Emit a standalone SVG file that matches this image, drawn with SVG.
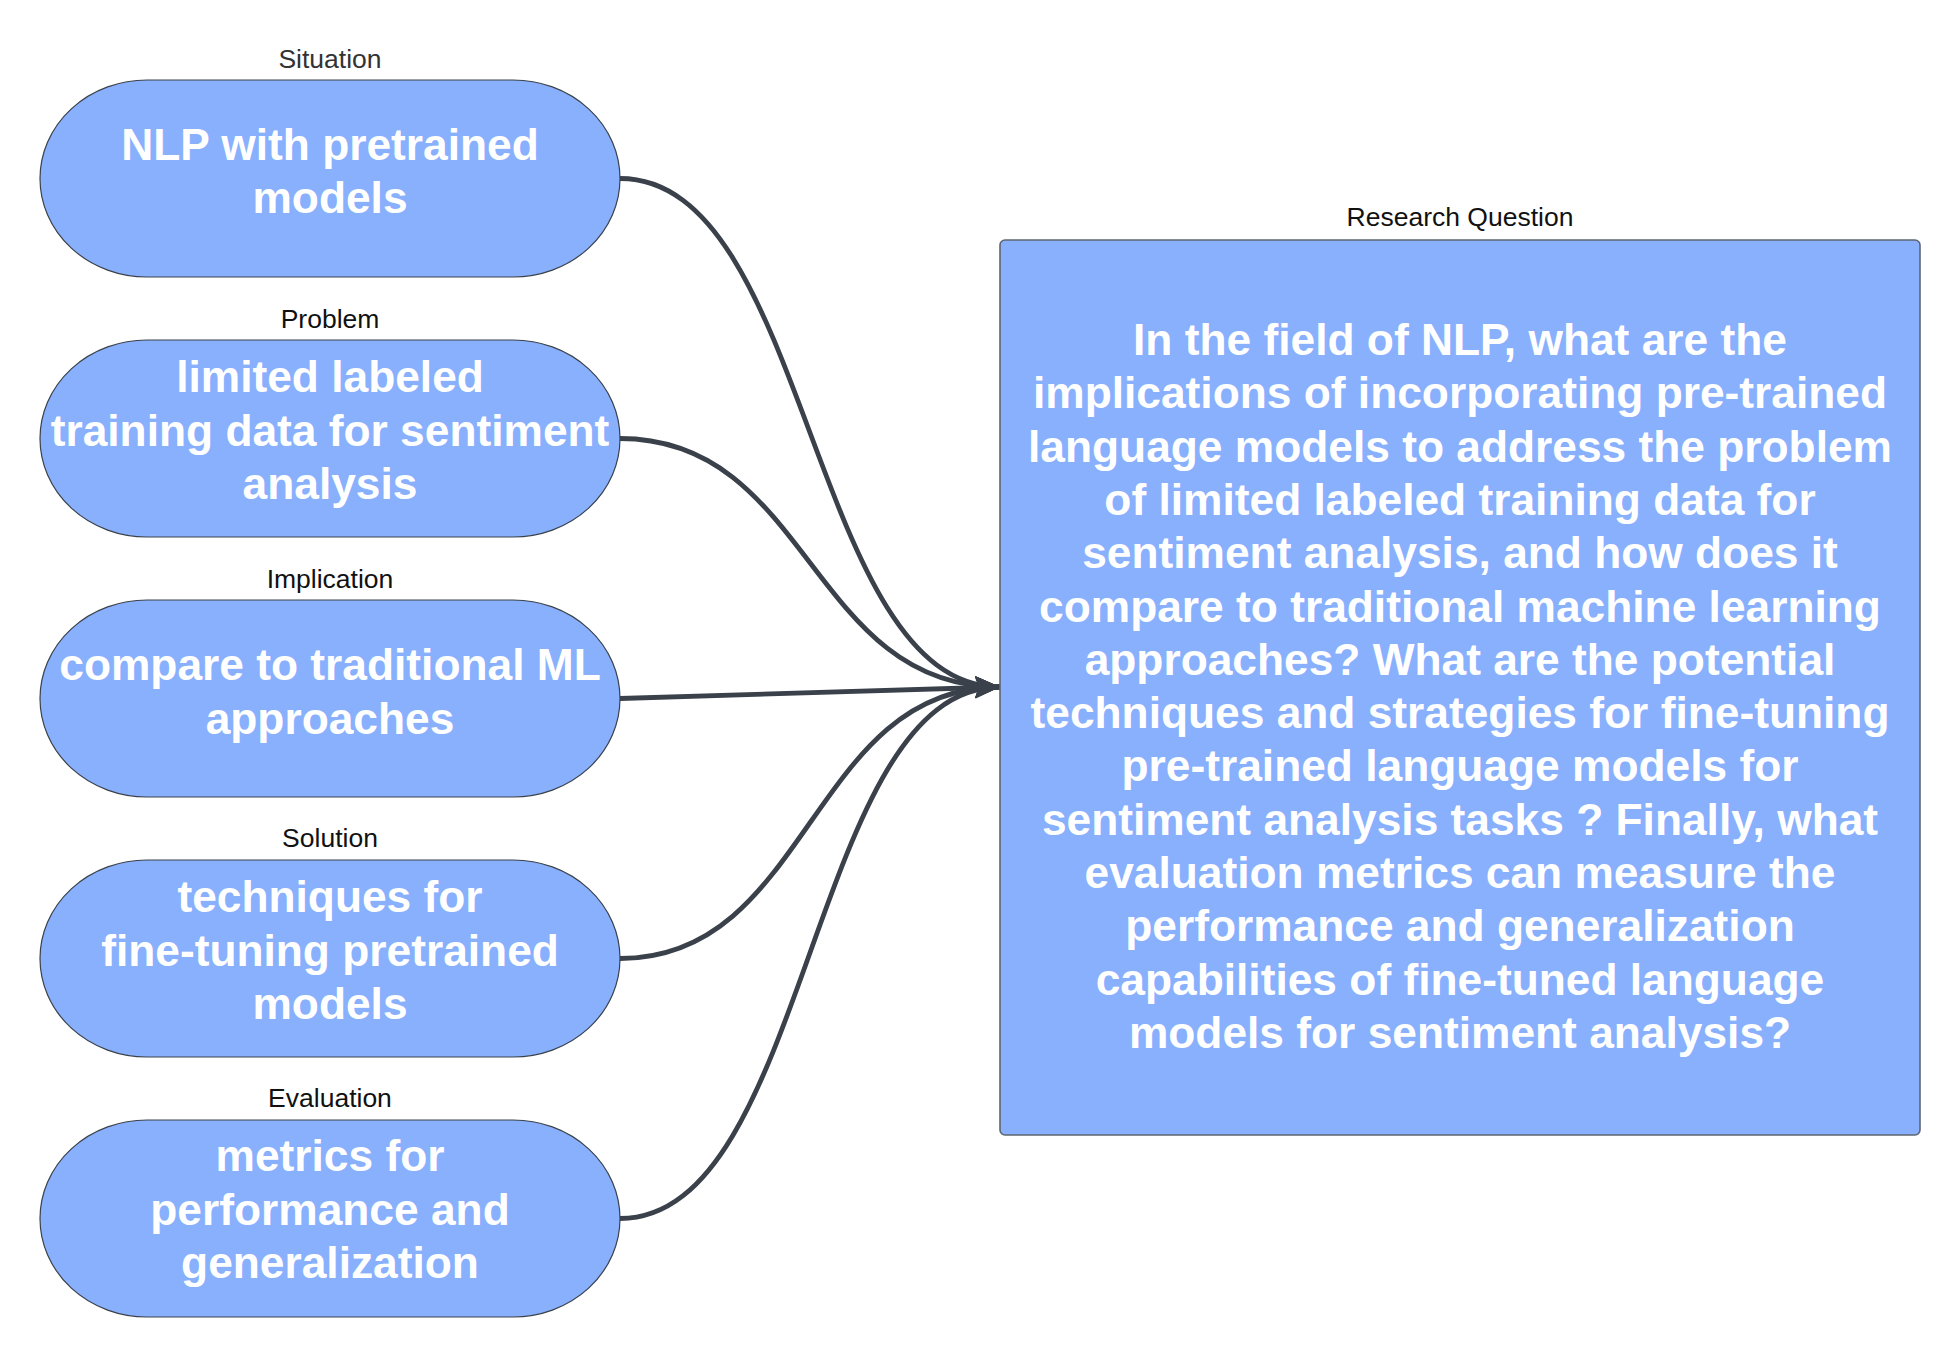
<svg xmlns="http://www.w3.org/2000/svg" width="1960" height="1358" viewBox="0 0 1960 1358">
<style>
.oval{fill:#88b0fd;stroke:#3a414a;stroke-width:1.2}
.box{fill:#88b0fd;stroke:#5e6570;stroke-width:1.6}
.lbl{font-family:"Liberation Sans",Arial,sans-serif;font-size:26.5px;fill:#111;text-anchor:middle}
.txt{font-family:"Liberation Sans",Arial,sans-serif;font-size:44.3px;font-weight:bold;fill:#fff;text-anchor:middle}
.con{fill:none;stroke:#3a414a;stroke-width:4.8}
</style>
<defs>
<marker id="arr" markerUnits="userSpaceOnUse" markerWidth="26" markerHeight="24" refX="25" refY="11" orient="auto" viewBox="0 0 26 24">
<path d="M0,0 L25,11 L0,22 L4,11 z" fill="#3a414a"/>
</marker>
</defs>
<rect width="1960" height="1358" fill="#fff"/>
<g id="connectors">
<path class="con" d="M620,178.5 C810,178.5 810,687 1000,687" marker-end="url(#arr)"/>
<path class="con" d="M620,438.5 C810,438.5 810,687 1000,687" marker-end="url(#arr)"/>
<path class="con" d="M620,698.5 L1000,687" marker-end="url(#arr)"/>
<path class="con" d="M620,958.5 C810,958.5 810,687 1000,687" marker-end="url(#arr)"/>
<path class="con" d="M620,1218.5 C810,1218.5 810,687 1000,687" marker-end="url(#arr)"/>
</g>
<g id="situation">
<text class="lbl" x="330" y="68" style="fill:#333">Situation</text>
<rect class="oval" x="40" y="80" width="580" height="197" rx="107" ry="98.5"/>
<text class="txt" x="330" y="160">NLP with pretrained</text>
<text class="txt" x="330" y="213">models</text>
</g>
<g id="problem">
<text class="lbl" x="330" y="328">Problem</text>
<rect class="oval" x="40" y="340" width="580" height="197" rx="107" ry="98.5"/>
<text class="txt" x="330" y="392">limited labeled</text>
<text class="txt" x="330" y="445.5">training data for sentiment</text>
<text class="txt" x="330" y="499">analysis</text>
</g>
<g id="implication">
<text class="lbl" x="330" y="588">Implication</text>
<rect class="oval" x="40" y="600" width="580" height="197" rx="107" ry="98.5"/>
<text class="txt" x="330" y="680">compare to traditional ML</text>
<text class="txt" x="330" y="733.5">approaches</text>
</g>
<g id="solution">
<text class="lbl" x="330" y="847">Solution</text>
<rect class="oval" x="40" y="860" width="580" height="197" rx="107" ry="98.5"/>
<text class="txt" x="330" y="912">techniques for</text>
<text class="txt" x="330" y="965.5">fine-tuning pretrained</text>
<text class="txt" x="330" y="1019">models</text>
</g>
<g id="evaluation">
<text class="lbl" x="330" y="1107">Evaluation</text>
<rect class="oval" x="40" y="1120" width="580" height="197" rx="107" ry="98.5"/>
<text class="txt" x="330" y="1171">metrics for</text>
<text class="txt" x="330" y="1224.5">performance and</text>
<text class="txt" x="330" y="1278">generalization</text>
</g>
<g id="research-question">
<text class="lbl" x="1460" y="226">Research Question</text>
<rect class="box" x="1000" y="240" width="920" height="895" rx="5" ry="5"/>
<text class="txt" x="1460" y="355">In the field of NLP, what are the</text>
<text class="txt" x="1460" y="408.3">implications of incorporating pre-trained</text>
<text class="txt" x="1460" y="461.6">language models to address the problem</text>
<text class="txt" x="1460" y="514.9">of limited labeled training data for</text>
<text class="txt" x="1460" y="568.2">sentiment analysis, and how does it</text>
<text class="txt" x="1460" y="621.5">compare to traditional machine learning</text>
<text class="txt" x="1460" y="674.8">approaches? What are the potential</text>
<text class="txt" x="1460" y="728.1">techniques and strategies for fine-tuning</text>
<text class="txt" x="1460" y="781.4">pre-trained language models for</text>
<text class="txt" x="1460" y="834.7">sentiment analysis tasks ? Finally, what</text>
<text class="txt" x="1460" y="888">evaluation metrics can measure the</text>
<text class="txt" x="1460" y="941.3">performance and generalization</text>
<text class="txt" x="1460" y="994.6">capabilities of fine-tuned language</text>
<text class="txt" x="1460" y="1047.9">models for sentiment analysis?</text>
</g>
</svg>
